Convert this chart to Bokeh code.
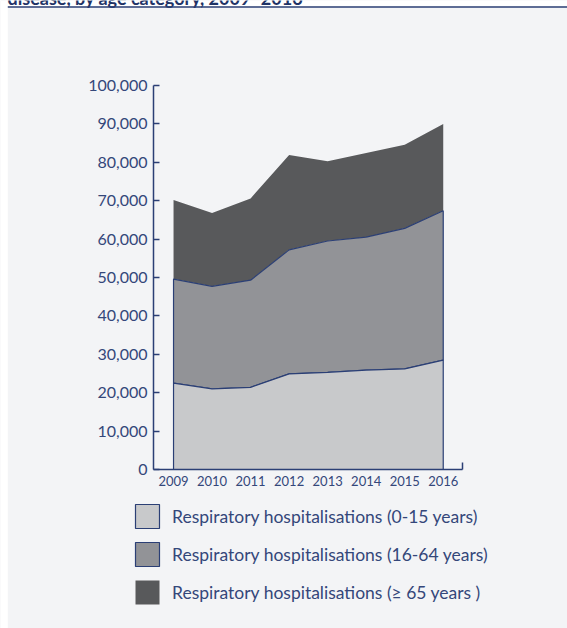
from bokeh.plotting import figure
from bokeh.models import (Legend, LegendItem, BoxAnnotation, Label, FixedTicker,
                          NumeralTickFormatter, Range1d)
from bokeh.embed import file_html
from bokeh.resources import INLINE

# ---- data ----
years = [2009, 2010, 2011, 2012, 2013, 2014, 2015, 2016]
age_0_15 = [22500, 21000, 21400, 24900, 25300, 25900, 26200, 28500]
age_16_64 = [27100, 26700, 27900, 32300, 34200, 34600, 36600, 38900]
age_65_plus = [20600, 19100, 21300, 24700, 20800, 21900, 21800, 22600]
series_labels = ["Respiratory hospitalisations (0-15 years)",
                 "Respiratory hospitalisations (16-64 years)",
                 "Respiratory hospitalisations (\u2265 65 years )"]
y_ticks = list(range(0, 100001, 10000))
title_text = "disease, by age category, 2009\u20132016"

# ---- styles ----
BG = "#f3f4f6"
NAVY = "#2b3f75"
TXT = "#34477a"
C_LIGHT = "#c8c9cb"
C_MID = "#929397"
C_DARK = "#58595b"
FONT = "Lato"

W, H = 567, 628
# axis box in canvas pixels: x 153..462, y 85..469
X0, X1 = 2008.48, 2016.5
Y0, Y1 = 0, 100000
px_per_x = (462 - 153) / (X1 - X0)
px_per_y = (469 - 85) / (Y1 - Y0)
x_range = Range1d(X0 - 153 / px_per_x, X1 + (W - 462) / px_per_x)
y_range = Range1d(Y0 - (H - 469) / px_per_y, Y1 + 85 / px_per_y)

cum1 = list(age_0_15)
cum2 = [a + b for a, b in zip(cum1, age_16_64)]
cum3 = [a + b for a, b in zip(cum2, age_65_plus)]

p = figure(width=W, height=H, x_range=x_range, y_range=y_range,
           output_backend="svg", toolbar_location=None, min_border=0,
           min_border_left=0, min_border_right=0, min_border_top=0, min_border_bottom=0,
           background_fill_color=BG, border_fill_color=BG, outline_line_color=None)
p.grid.visible = False

xs = years + years[::-1]
r_dark = p.patch(xs, cum3 + cum2[::-1], fill_color=C_DARK, line_color=None)
r_mid = p.patch(xs, cum2 + cum1[::-1], fill_color=C_MID, line_color=NAVY, line_width=1.2)
r_light = p.patch(xs, cum1 + [0] * len(years), fill_color=C_LIGHT, line_color=NAVY, line_width=1.2)

# axes (fixed inside the full-canvas frame)
xa = p.xaxis[0]
xa.fixed_location = Y0
xa.bounds = (X0, X1)
xa.ticker = FixedTicker(ticks=years, minor_ticks=[X1])
xa.major_tick_in = 0
xa.major_tick_out = 0
xa.minor_tick_in = 7
xa.minor_tick_out = 0
xa.minor_tick_line_color = NAVY
xa.minor_tick_line_width = 1.5
xa.axis_line_color = NAVY
xa.axis_line_width = 1.5
xa.major_label_text_font = FONT
xa.major_label_text_font_size = "13px"
xa.major_label_text_color = TXT
xa.major_label_standoff = 6

ya = p.yaxis[0]
ya.fixed_location = X0
ya.bounds = (Y0, Y1)
ya.ticker = FixedTicker(ticks=y_ticks, minor_ticks=[])
ya.formatter = NumeralTickFormatter(format="0,0")
ya.major_tick_in = 6
ya.major_tick_out = 0
ya.major_tick_line_color = NAVY
ya.major_tick_line_width = 1.5
ya.axis_line_color = NAVY
ya.axis_line_width = 1.5
ya.major_label_text_font = FONT
ya.major_label_text_font_size = "16px"
ya.major_label_text_color = TXT
ya.major_label_standoff = 6

# white strips and clipped title at the top
def sbox(l, r, b, t, color):
    return BoxAnnotation(left=l, right=r, bottom=b, top=t,
                         left_units="screen", right_units="screen",
                         bottom_units="screen", top_units="screen",
                         fill_color=color, fill_alpha=1, line_color=None)

p.add_layout(sbox(0, 7.3, 0, H, "white"))
p.add_layout(sbox(7.3, W, H - 5.7, H, "white"))
p.add_layout(Label(x=7, y=H + 3, x_units="screen", y_units="screen", text=title_text,
                   text_font=FONT, text_font_style="bold", text_font_size="18px",
                   text_color="#1f3366", text_baseline="alphabetic"))
p.add_layout(sbox(7.3, W, H - 7.3, H - 5.7, NAVY))

legend = Legend(items=[LegendItem(label=series_labels[0], renderers=[r_light]),
                       LegendItem(label=series_labels[1], renderers=[r_mid]),
                       LegendItem(label=series_labels[2], renderers=[r_dark])],
                location=(132, 21), orientation="vertical",
                glyph_width=30, glyph_height=30, label_height=30, label_standoff=10,
                spacing=8, padding=10, margin=0, background_fill_alpha=0,
                border_line_color=None, label_text_font=FONT,
                label_text_font_size="17.5px", label_text_color=TXT)
p.add_layout(legend)

open("out.html", "w").write(file_html(p, INLINE))
